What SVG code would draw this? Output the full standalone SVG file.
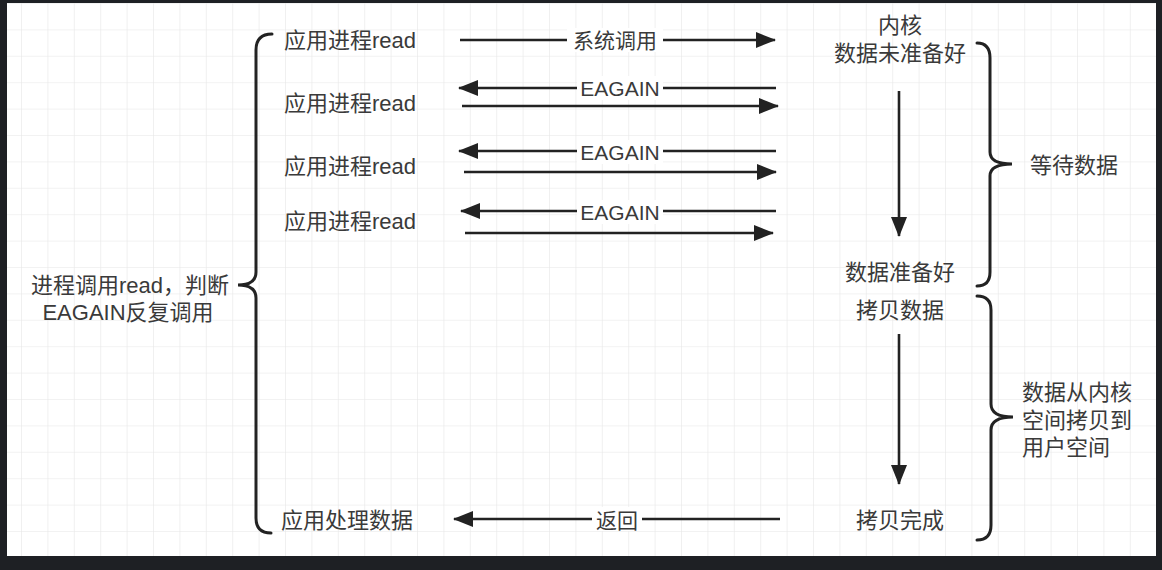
<svg xmlns="http://www.w3.org/2000/svg" width="1162" height="570" viewBox="0 0 1162 570">
<defs>
<pattern id="grid" patternUnits="userSpaceOnUse" x="21" y="3" width="26.4" height="26.4">
<path d="M0,0 H26.4 M0,0 V26.4" fill="none" stroke="#e6e6e6" stroke-width="1.2"/>
</pattern>
<marker id="ah" viewBox="0 0 20 16" refX="19" refY="8" markerWidth="20" markerHeight="16" markerUnits="userSpaceOnUse" orient="auto">
<path d="M0,0 L20,8 L0,16 Z" fill="#222"/>
</marker>
<style>
text{font-family:"Liberation Sans","Noto Sans CJK SC",sans-serif;fill:#3a3a3a;dominant-baseline:central}
.n{font-size:22px}
.l{font-size:21px;text-anchor:middle}
.c{text-anchor:middle}
.edge{stroke:#222;stroke-width:2.6;fill:none;marker-end:url(#ah)}
.brace{stroke:#222;stroke-width:3;fill:none;stroke-linecap:round}
.lbg{fill:#fff}
</style>
</defs>
<rect x="0" y="0" width="1162" height="570" fill="#1e2024"/>
<rect x="7" y="3" width="1149" height="553" fill="#fff"/>
<rect x="7" y="3" width="1149" height="553" fill="url(#grid)"/>

<g id="connectors">
<line class="edge" x1="460" y1="40" x2="775" y2="40"/>
<line class="edge" x1="776" y1="88" x2="459" y2="88"/>
<line class="edge" x1="462" y1="106" x2="778" y2="106"/>
<line class="edge" x1="776" y1="151" x2="459" y2="151"/>
<line class="edge" x1="464" y1="172" x2="776" y2="172"/>
<line class="edge" x1="776" y1="211" x2="461" y2="211"/>
<line class="edge" x1="465" y1="233" x2="773" y2="233"/>
<line class="edge" x1="780" y1="519" x2="454" y2="519"/>
<line class="edge" x1="899" y1="91" x2="899" y2="236"/>
<line class="edge" x1="899" y1="334" x2="899" y2="484"/>
<rect class="lbg" x="567" y="28" width="96" height="24"/>
<text class="l" x="615" y="40">系统调用</text>
<rect class="lbg" x="577" y="76" width="86" height="24"/>
<text class="l" x="620" y="88">EAGAIN</text>
<rect class="lbg" x="577" y="140" width="86" height="24"/>
<text class="l" x="620" y="152">EAGAIN</text>
<rect class="lbg" x="577" y="200" width="86" height="24"/>
<text class="l" x="620" y="212">EAGAIN</text>
<rect class="lbg" x="592" y="507" width="50" height="24"/>
<text class="l" x="617" y="520">返回</text>
</g>

<g id="left-brace">
<path class="brace" d="M272,34 Q256,34 256,50 L256,272 Q256,285 238,285 Q256,285 256,298 L256,518 Q256,533 271,533"/>
<text class="n c" x="130" y="285">进程调用read，判断</text>
<text class="n c" x="128" y="312">EAGAIN反复调用</text>
</g>

<g id="app-read-1"><text class="n" x="284" y="40">应用进程read</text></g>
<g id="app-read-2"><text class="n" x="284" y="103">应用进程read</text></g>
<g id="app-read-3"><text class="n" x="284" y="166">应用进程read</text></g>
<g id="app-read-4"><text class="n" x="284" y="221">应用进程read</text></g>
<g id="app-process"><text class="n" x="281" y="520">应用处理数据</text></g>

<g id="kernel-not-ready">
<text class="n c" x="900" y="25">内核</text>
<text class="n c" x="900" y="53">数据未准备好</text>
</g>
<g id="kernel-ready"><text class="n c" x="900" y="272">数据准备好</text></g>
<g id="copy-data"><text class="n c" x="900" y="310">拷贝数据</text></g>
<g id="copy-done"><text class="n c" x="900" y="520">拷贝完成</text></g>

<g id="wait-brace">
<path class="brace" d="M977,43 Q990,43 990,58 L990,152 Q990,164 1012,164 Q990,164 990,176 L990,272 Q990,286 977,286"/>
<text class="n" x="1030" y="165">等待数据</text>
</g>
<g id="copy-brace">
<path class="brace" d="M977,296 Q991,296 991,310 L991,404 Q991,417 1013,417 Q991,417 991,430 L991,525 Q991,540 977,540"/>
<text class="n" x="1022" y="392">数据从内核</text>
<text class="n" x="1022" y="420">空间拷贝到</text>
<text class="n" x="1022" y="447">用户空间</text>
</g>
</svg>
